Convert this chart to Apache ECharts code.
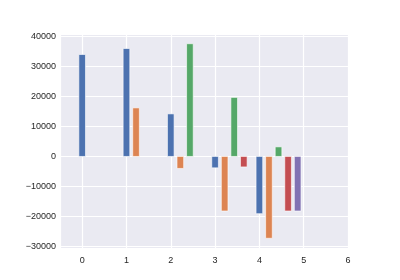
<!DOCTYPE html>
<html>
<head>
<meta charset="utf-8">
<script src="https://cdn.jsdelivr.net/npm/echarts@6/dist/echarts.min.js"></script>
<style>html,body{margin:0;padding:0;background:#fff}#c{width:400px;height:280px}</style>
</head>
<body>
<div id="c"></div>
<script>
// Group index of each category (x position of its first bar)
const categories = [0, 1, 2, 3, 4];
// Series values; series j starts at category j
const blueVals   = [34000, 36000, 14200, -3800, -19100];
const orangeVals = [16200, -4000, -18200, -27300];
const greenVals  = [37600, 19700, 3200];
const redVals    = [-3500, -18200];
const purpleVals = [-18200];
const xTicks = [0, 1, 2, 3, 4, 5, 6];
const yTicks = [-30000, -20000, -10000, 0, 10000, 20000, 30000, 40000];

const seriesVals = [blueVals, orangeVals, greenVals, redVals, purpleVals];
const colors = ['#4C72B0', '#DD8452', '#55A868', '#C44E52', '#8172B3'];
const BAR_W = 0.15;
const STEP = 0.216;

const chart = echarts.init(document.getElementById('c'), null, {renderer: 'canvas'});

function renderItem(params, api) {
  const x = api.value(0), y = api.value(1);
  const p0 = api.coord([x - BAR_W / 2, 0]);
  const p1 = api.coord([x + BAR_W / 2, y]);
  return {
    type: 'rect',
    shape: {x: p0[0], y: Math.min(p0[1], p1[1]), width: p1[0] - p0[0], height: Math.abs(p1[1] - p0[1])},
    style: {fill: api.visual('color'), stroke: '#ffffff', lineWidth: 0.6}
  };
}

const series = seriesVals.map((vals, j) => ({
  type: 'custom',
  name: 's' + j,
  color: colors[j],
  renderItem: renderItem,
  encode: {x: 0, y: 1},
  data: vals.map((v, k) => [categories[j + k] + j * STEP, v])
}));

const labelStyle = {color: '#262626', fontFamily: 'Liberation Sans, Arial, sans-serif', fontSize: 9};
const fmt = v => (v < 0 ? '\u2212' : '') + Math.abs(v);

chart.setOption({
  animation: false,
  backgroundColor: '#ffffff',
  grid: {left: 60, right: 52, top: 34, bottom: 32, show: true, backgroundColor: '#EAEAF2', borderWidth: 0},
  xAxis: {
    type: 'value', min: -0.5, max: 6, splitNumber: 6,
    axisLine: {show: false}, axisTick: {show: false},
    splitLine: {show: true, lineStyle: {color: '#ffffff', width: 1.2}},
    axisLabel: Object.assign({margin: 8, formatter: v => xTicks.includes(v) ? fmt(v) : ''}, labelStyle)
  },
  yAxis: {
    type: 'value', min: -30545, max: 40845, splitNumber: 7,
    axisLine: {show: false}, axisTick: {show: false},
    splitLine: {show: true, lineStyle: {color: '#ffffff', width: 1.2}},
    axisLabel: Object.assign({margin: 4, formatter: v => yTicks.includes(v) ? fmt(v) : ''}, labelStyle)
  },
  series: series
});
</script>
</body>
</html>
